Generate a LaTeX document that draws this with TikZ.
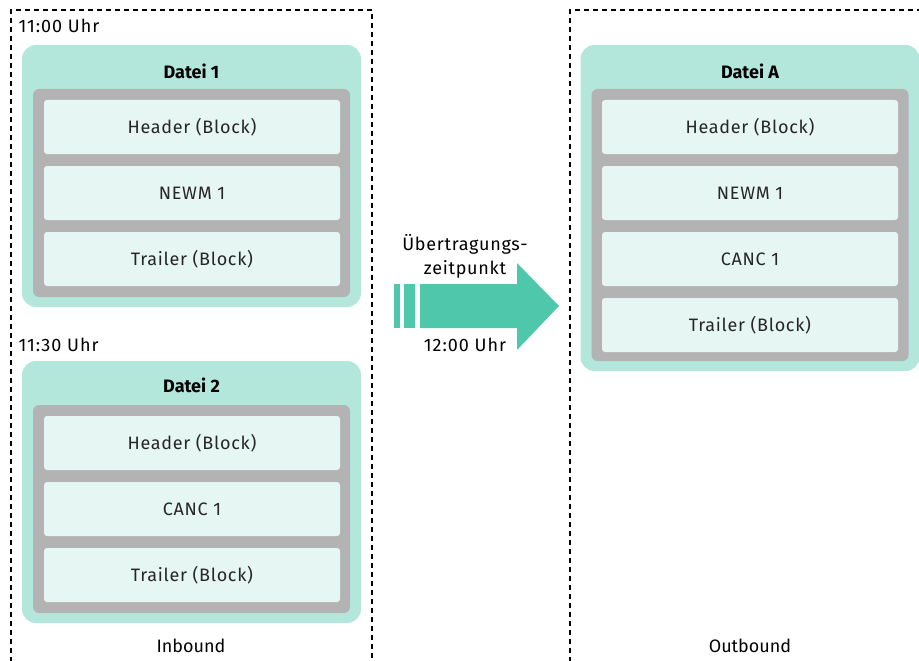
\documentclass[tikz,border=0pt]{standalone}
\usepackage{fontspec}
\setmainfont{Fira Sans}
\newfontfamily\spacedfont[LetterSpace=4]{Fira Sans}
\newfontfamily\widefont[LetterSpace=5.5]{Fira Sans}
\usetikzlibrary{positioning}

\definecolor{dateifill}{RGB}{179,231,220}
\definecolor{blockfill}{RGB}{230,246,242}
\definecolor{framegray}{RGB}{179,179,179}
\definecolor{arrowteal}{RGB}{79,199,170}

\tikzset{
  datei/.style={fill=dateifill, rounded corners=14pt, minimum width=339pt, inner sep=0pt},
  rahmen/.style={fill=framegray, rounded corners=6pt, minimum width=317pt, inner sep=0pt},
  blockbox/.style={fill=blockfill, rounded corners=3pt, minimum width=296pt, minimum height=54pt, inner sep=0pt, text=black!85, font=\spacedfont\fontsize{18}{21}\selectfont},
  titel/.style={font=\fontsize{18}{21}\selectfont\bfseries},
  zeit/.style={font=\widefont\fontsize{18}{21}\selectfont, anchor=west},
  bound/.style={dash pattern=on 5pt off 4pt, line width=1.3pt}
}

\begin{document}
\begin{tikzpicture}[x=1pt,y=-1pt]
\useasboundingbox (0,0) rectangle (919,661);
\clip (0,0) rectangle (919,661);
% Inbound / Outbound
\draw[bound] (11,680) -- (11,10) -- (372,10) -- (372,680);
\draw[bound] (570,680) -- (570,10) -- (940,10);
\node[font=\fontsize{18}{21}\selectfont] (inb) at (191,646) {Inbound};
\node[font=\fontsize{18}{21}\selectfont] (outb) at (750,646) {Outbound};
% Datei 1
\node[zeit] (z1) at (15,26) {11:00 Uhr};
\node[datei, minimum height=262pt] (d1) at (191.5,176) {};
\node[rahmen, minimum height=208pt] (r1) at (191.5,193) {};
\node[titel] (d1t) at (191.5,71) {Datei 1};
\node[blockbox] (h1) at (192,127) {Header (Block)};
\node[blockbox] (n1) at (192,193) {NEWM 1};
\node[blockbox] (t1) at (192,259) {Trailer (Block)};
% Datei 2
\node[zeit] (z2) at (15,345) {11:30 Uhr};
\node[datei, minimum height=262pt] (d2) at (191.5,492) {};
\node[rahmen, minimum height=208pt] (r2) at (191.5,509) {};
\node[titel] (d2t) at (191.5,385) {Datei 2};
\node[blockbox] (h2) at (192,443) {Header (Block)};
\node[blockbox] (c2) at (192,509) {CANC 1};
\node[blockbox] (t2) at (192,575) {Trailer (Block)};
% Datei A
\node[datei, minimum height=326pt] (dA) at (750,208) {};
\node[rahmen, minimum height=272pt] (rA) at (750,225) {};
\node[titel] (dAt) at (750,71) {Datei A};
\node[blockbox] (hA) at (750,127) {Header (Block)};
\node[blockbox] (nA) at (750,193) {NEWM 1};
\node[blockbox] (cA) at (750,259) {CANC 1};
\node[blockbox] (tA) at (750,325) {Trailer (Block)};
% Pfeil
\fill[arrowteal] (394,284) rectangle (400,328);
\fill[arrowteal] (404,284) rectangle (415,328);
\fill[arrowteal] (420,284) -- (517,284) -- (517,263) -- (559,306) -- (517,350) -- (517,328) -- (420,328) -- cycle;
\node[align=center, font=\spacedfont\fontsize{18}{24}\selectfont] (ueb) at (465,256) {Übertragungs-\\zeitpunkt};
\node[font=\widefont\fontsize{18}{21}\selectfont] (uhr) at (465,345) {12:00 Uhr};
\end{tikzpicture}
\end{document}
